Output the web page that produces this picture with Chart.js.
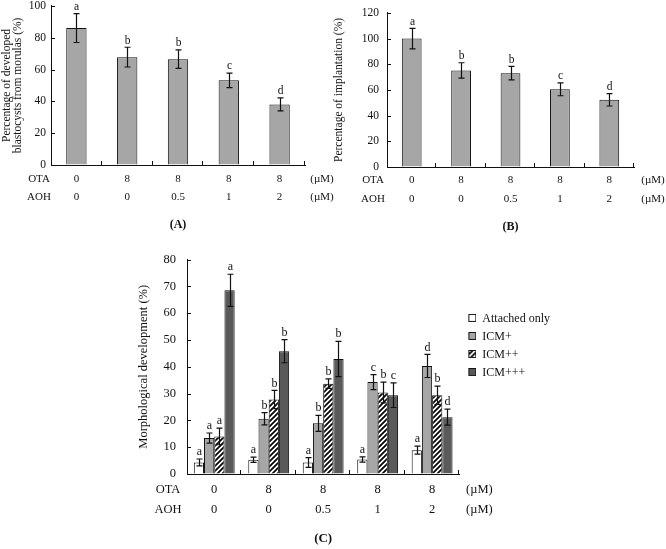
<!DOCTYPE html>
<html>
<head>
<meta charset="utf-8">
<script src="https://cdn.jsdelivr.net/npm/chart.js@4.4.0/dist/chart.umd.min.js"></script>
<style>
  body { margin: 0; background: #fff; width: 666px; height: 549px; position: relative; overflow: hidden; }
  canvas { position: absolute; }
</style>
</head>
<body>
<canvas id="chartA" width="345" height="246" style="left:0;top:-6px"></canvas>
<canvas id="chartB" width="336" height="242" style="left:330px;top:-2px"></canvas>
<canvas id="chartC" width="546" height="307" style="left:120px;top:241px"></canvas>
<script>
// doses under each group
var otaDose = ['0', '8', '8', '8', '8'];
var aohDose = ['0', '0', '0.5', '1', '2'];

// (A) blastocysts developed from morulas
var blastValues = [86.1, 67.8, 66.5, 53.2, 38.1];
var blastErrors = [9.1, 6.2, 5.8, 4.6, 4.1];
var blastLetters = ['a', 'b', 'b', 'c', 'd'];

// (B) implantation
var implantValues = [100, 75.2, 73.1, 60.5, 52.3];
var implantErrors = [8, 6, 5.3, 5, 4.8];
var implantLetters = ['a', 'b', 'b', 'c', 'd'];

// (C) morphological development
var attachedValues = [4.3, 5.3, 4.3, 5.4, 8.9];
var attachedErrors = [1.3, 1, 1.8, 1, 1.5];
var attachedLetters = ['a', 'a', 'a', 'a', 'a'];
var icm1Values = [13.4, 20.6, 18.9, 34.3, 40.3];
var icm1Errors = [1.9, 2.3, 3, 2.8, 4.3];
var icm1Letters = ['a', 'b', 'b', 'c', 'd'];
var icm2Values = [14, 27.8, 33.7, 30.4, 29.4];
var icm2Errors = [3.1, 3.4, 1.8, 3.9, 3.4];
var icm2Letters = ['a', 'b', 'b', 'b', 'b'];
var icm3Values = [68.5, 45.8, 42.9, 29.4, 21.2];
var icm3Errors = [6, 4.3, 6.6, 4.6, 3];
var icm3Letters = ['a', 'b', 'b', 'c', 'd'];

var serif = "'Liberation Serif', 'Times New Roman', serif";
var ink = '#111';

// error bars + significance letters, drawn from the y scale
var errorBarPlugin = {
  id: 'errorBars',
  afterDatasetsDraw: function (chart, args, o) {
    var ctx = chart.ctx;
    var y = chart.scales.y;
    ctx.save();
    chart.data.datasets.forEach(function (ds, di) {
      var meta = chart.getDatasetMeta(di);
      meta.data.forEach(function (bar, i) {
        var v = ds.data[i], e = ds.errors[i];
        var top = y.getPixelForValue(v + e);
        var bot = y.getPixelForValue(v - e);
        var bx = Math.round(bar.x) + 0.5;
        ctx.strokeStyle = ink;
        ctx.lineWidth = 1.2;
        ctx.beginPath();
        ctx.moveTo(bx, top); ctx.lineTo(bx, bot);
        ctx.moveTo(bx - o.cap, top); ctx.lineTo(bx + o.cap, top);
        ctx.moveTo(bx - o.cap, bot); ctx.lineTo(bx + o.cap, bot);
        ctx.stroke();
        ctx.fillStyle = ink;
        ctx.font = o.letterSize + 'px ' + serif;
        ctx.textAlign = 'center';
        ctx.textBaseline = 'bottom';
        ctx.fillText(ds.letters[i], bx, top - 1);
      });
    });
    ctx.restore();
  }
};

// OTA / AOH row names, (µM) units, inward ticks on both axes
var doseRowsPlugin = {
  id: 'doseRows',
  afterDraw: function (chart, args, o) {
    var x = chart.scales.x, y = chart.scales.y, ctx = chart.ctx;
    var lh = o.size * o.lineHeight;
    var y0 = x.top + o.padding + lh / 2;
    ctx.save();
    ctx.font = o.size + 'px ' + serif;
    ctx.fillStyle = ink;
    ctx.textAlign = 'center';
    ctx.textBaseline = 'middle';
    ['OTA', 'AOH'].forEach(function (name, k) {
      var yy = y0 + k * lh;
      ctx.fillText(name, x.left - o.nameGap, yy);
      ctx.fillText('(\u00b5M)', x.right + o.unitGap, yy);
    });
    var n = chart.data.labels.length;
    ctx.strokeStyle = ink;
    ctx.lineWidth = 1;
    ctx.beginPath();
    for (var i = 1; i <= n; i++) {
      var bx = Math.round(x.left + i * x.width / n) - 0.5;
      ctx.moveTo(bx, x.top); ctx.lineTo(bx, x.top - 4);
    }
    y.ticks.forEach(function (t) {
      var ty = Math.round(y.getPixelForValue(t.value)) + 0.5;
      ctx.moveTo(y.right, ty); ctx.lineTo(y.right + 4, ty);
    });
    ctx.stroke();
    ctx.restore();
  }
};

function drawHatch(g, w, h) {
  g.save();
  g.beginPath();
  g.rect(0, 0, w, h);
  g.clip();
  g.fillStyle = '#fff';
  g.fillRect(0, 0, w, h);
  g.strokeStyle = '#000';
  g.lineWidth = 1.7;
  g.beginPath();
  for (var k = -h; k < w + h; k += 5) {
    g.moveTo(k - 1, h + 1); g.lineTo(k + h + 1, -1);
  }
  g.stroke();
  g.restore();
}

function hatch() {
  var c = document.createElement('canvas');
  c.width = 5; c.height = 5;
  drawHatch(c.getContext('2d'), 5, 5);
  return c.getContext('2d').createPattern(c, 'repeat');
}

// legend swatch, drawn at the right end of a wider image so the box sits off the plot
function swatch(fill) {
  var c = document.createElement('canvas');
  c.width = 11; c.height = 9;
  var g = c.getContext('2d');
  g.translate(3, 0);
  if (fill === 'hatch') {
    drawHatch(g, 8, 8);
  } else {
    g.fillStyle = fill;
    g.fillRect(0, 0, 8, 8);
  }
  g.strokeStyle = ink;
  g.lineWidth = 1;
  g.strokeRect(0.5, 0.5, 7, 7);
  return c;
}
var legendSwatches = [swatch('#ffffff'), swatch('#a6a6a6'), swatch('hatch'), swatch('#5a5a5a')];

function scalesFor(s) {
  return {
    x: {
      offset: true,
      grid: { display: false, drawTicks: false },
      border: { display: true, color: ink, width: 1 },
      ticks: {
        color: ink,
        padding: s.tickPad,
        maxRotation: 0,
        autoSkip: false,
        font: { family: serif, size: s.rowSize, lineHeight: s.rowLine },
        callback: function (v, i) { return [otaDose[i], aohDose[i]]; }
      },
      title: {
        display: true, text: s.caption, color: ink,
        font: { family: serif, size: s.capSize, weight: 'bold' },
        padding: { top: 0, bottom: s.capPad }
      },
      afterFit: function (a) { a.height = s.xHeight; }
    },
    y: {
      min: 0, max: s.max,
      grid: { display: true, drawOnChartArea: false, drawTicks: false },
      border: { display: true, color: ink, width: 1 },
      ticks: { stepSize: s.step, color: ink, padding: s.yTickPad, font: { family: serif, size: s.tickSize } },
      title: {
        display: true, text: s.yTitle, color: ink,
        font: { family: serif, size: s.titleSize, lineHeight: 0.95 },
        padding: { top: s.yTitlePad, bottom: 0 }
      },
      afterFit: function (a) { a.width = s.yWidth; }
    }
  };
}

function simpleBars(id, values, errors, letters, s) {
  new Chart(document.getElementById(id), {
    type: 'bar',
    data: {
      labels: otaDose,
      datasets: [{
        data: values, errors: errors, letters: letters,
        backgroundColor: '#a6a6a6', borderColor: ink, borderWidth: 1,
        categoryPercentage: 1, barPercentage: 0.4
      }]
    },
    options: {
      responsive: false, animation: false, devicePixelRatio: 1,
      layout: { padding: { left: 0, right: s.padRight, top: 0, bottom: 0 } },
      plugins: {
        legend: { display: false }, tooltip: { enabled: false },
        errorBars: { cap: 3, letterSize: 11.5 },
        doseRows: { size: s.rowSize, lineHeight: s.rowLine, padding: s.tickPad, nameGap: s.nameGap, unitGap: s.unitGap }
      },
      scales: scalesFor(s)
    },
    plugins: [errorBarPlugin, doseRowsPlugin]
  });
}

simpleBars('chartA', blastValues, blastErrors, blastLetters, {
  max: 100, step: 20, yTitle: ['Percentage of developed', 'blastocysts from morulas (%)'],
  caption: '(A)', yWidth: 51, xHeight: 75, padRight: 40,
  rowSize: 11, rowLine: 18 / 11, tickPad: 5, capSize: 12, capPad: 8,
  tickSize: 11.5, titleSize: 11.5, yTitlePad: 2, yTickPad: 5, nameGap: 12, unitGap: 17
});

simpleBars('chartB', implantValues, implantErrors, implantLetters, {
  max: 120, step: 20, yTitle: 'Percentage of implantation (%)',
  caption: '(B)', yWidth: 57, xHeight: 73, padRight: 32,
  rowSize: 11, rowLine: 19 / 11, tickPad: 4, capSize: 12, capPad: 6,
  tickSize: 11.5, titleSize: 11.5, yTitlePad: 4, yTickPad: 8, nameGap: 14, unitGap: 19
});

var cOpts = {
  max: 80, step: 10, yTitle: 'Morphological development (%)',
  caption: '(C)', yWidth: 67, xHeight: 74,
  rowSize: 12.5, rowLine: 20 / 12.5, tickPad: 6, capSize: 13, capPad: 2,
  tickSize: 12.5, titleSize: 12.5, yTitlePad: 18, yTickPad: 11, nameGap: 19, unitGap: 20
};

new Chart(document.getElementById('chartC'), {
  type: 'bar',
  data: {
    labels: otaDose,
    datasets: [
      { label: 'Attached only', data: attachedValues, errors: attachedErrors, letters: attachedLetters,
        backgroundColor: '#ffffff', borderColor: ink, borderWidth: 1 },
      { label: 'ICM+', data: icm1Values, errors: icm1Errors, letters: icm1Letters,
        backgroundColor: '#a6a6a6', borderColor: ink, borderWidth: 1 },
      { label: 'ICM++', data: icm2Values, errors: icm2Errors, letters: icm2Letters,
        backgroundColor: hatch(), borderColor: ink, borderWidth: 1 },
      { label: 'ICM+++', data: icm3Values, errors: icm3Errors, letters: icm3Letters,
        backgroundColor: '#5a5a5a', borderColor: ink, borderWidth: 1 }
    ]
  },
  options: {
    responsive: false, animation: false, devicePixelRatio: 1,
    datasets: { bar: { categoryPercentage: 0.75, barPercentage: 1 } },
    layout: { padding: { left: 0, right: 106, top: 0, bottom: 0 } },
    plugins: {
      tooltip: { enabled: false },
      legend: {
        position: 'right', align: 'start',
        title: { display: true, text: ' ', font: { size: 12 }, padding: { top: 51, bottom: 0 } },
        labels: {
          usePointStyle: true, pointStyleWidth: 11, boxHeight: 8, padding: 6,
          color: ink, font: { family: serif, size: 12 },
          generateLabels: function (chart) {
            var items = Chart.defaults.plugins.legend.labels.generateLabels(chart);
            items.forEach(function (it, i) { it.pointStyle = legendSwatches[i]; });
            return items;
          }
        }
      },
      errorBars: { cap: 3, letterSize: 12 },
      doseRows: { size: cOpts.rowSize, lineHeight: cOpts.rowLine, padding: cOpts.tickPad, nameGap: cOpts.nameGap, unitGap: cOpts.unitGap }
    },
    scales: scalesFor(cOpts)
  },
  plugins: [errorBarPlugin, doseRowsPlugin]
});
</script>
</body>
</html>
